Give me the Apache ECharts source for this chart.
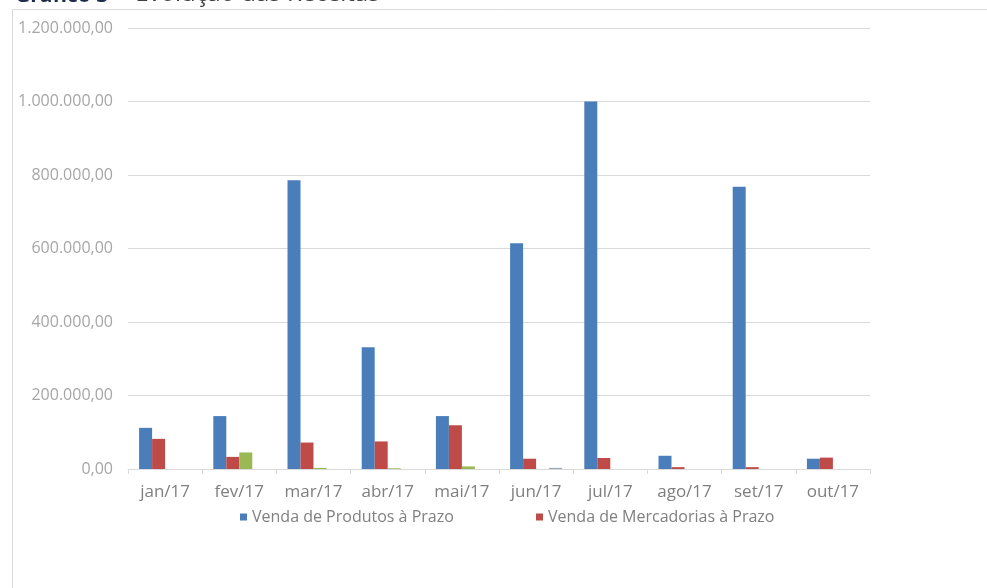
<!DOCTYPE html>
<html>
<head>
<meta charset="utf-8">
<script src="https://cdn.jsdelivr.net/npm/echarts@6/dist/echarts.min.js"></script>
<style>
html,body{margin:0;padding:0;background:#fff;}
#chart{width:987px;height:588px;}
</style>
</head>
<body>
<div id="chart"></div>
<script>
var categories = ['jan/17','fev/17','mar/17','abr/17','mai/17','jun/17','jul/17','ago/17','set/17','out/17'];
var vendaProdutos = [112000, 144000, 786000, 331000, 144000, 614000, 1000000, 36000, 768000, 28000];
var vendaMercadorias = [82000, 33000, 72000, 75000, 119000, 28000, 30000, 5000, 5000, 31000];
var serieVerde = [null, 45000, 3000, 2000, 7000, null, null, null, null, null];
var serieQuarta = [null, null, null, null, null, 3000, null, null, null, null];
var yTicks = [0, 200000, 400000, 600000, 800000, 1000000, 1200000];
var seriesNames = ['Venda de Produtos à Prazo', 'Venda de Mercadorias à Prazo', 'Outras Receitas', 'Demais Receitas'];

function fmtBR(v){
  var s = Math.round(v).toString().replace(/\B(?=(\d{3})+(?!\d))/g, '.');
  return s + ',00';
}

var chart = echarts.init(document.getElementById('chart'), null, {renderer:'canvas'});
var font = '"Open Sans", "DejaVu Sans", sans-serif';
chart.setOption({
  animation:false,
  backgroundColor:'#ffffff',
  graphic:[
    {type:'rect', shape:{x:12.5, y:9.5, width:1000, height:700}, style:{fill:'none', stroke:'#d9d9d9', lineWidth:1}, silent:true, z:-1},
    {type:'text', x:15, y:-14, style:{text:'Gráfico 3', font:'bold 21px "Open Sans", sans-serif', fill:'#1f2d4d', verticalAlign:'top'}},
    {type:'text', x:117, y:-18, style:{text:'– Evolução das Receitas', font:'24px "Open Sans", sans-serif', fill:'#404040', verticalAlign:'top'}}
  ],
  legend:[
    {data:[seriesNames[0]], left:240, top:509, padding:0, itemWidth:7, itemHeight:7, icon:'rect', itemGap:5,
     textStyle:{color:'#808080', fontSize:16, fontFamily:font}},
    {data:[seriesNames[1]], left:536, top:509, padding:0, itemWidth:7, itemHeight:7, icon:'rect', itemGap:5,
     textStyle:{color:'#808080', fontSize:16, fontFamily:font}}
  ],
  grid:{left:128, right:117, top:28, bottom:119, containLabel:false},
  xAxis:{
    type:'category', data:categories,
    axisLine:{show:true, lineStyle:{color:'#d9d9d9', width:1}},
    axisTick:{show:true, alignWithLabel:false, length:5, lineStyle:{color:'#d9d9d9'}},
    axisLabel:{color:'#7f7f7f', fontSize:17, fontFamily:font, margin:15, interval:0}
  },
  yAxis:{
    type:'value', min:yTicks[0], max:yTicks[yTicks.length-1], interval:yTicks[1]-yTicks[0],
    axisLine:{show:false}, axisTick:{show:false},
    splitLine:{lineStyle:{color:'#d9d9d9', width:1}},
    axisLabel:{color:'#a6a6a6', fontSize:16, fontFamily:font, margin:15, formatter:fmtBR}
  },
  series:[
    {name:seriesNames[0], type:'bar', data:vendaProdutos, barWidth:13, barGap:'0%', itemStyle:{color:'#4a7ebb'}},
    {name:seriesNames[1], type:'bar', data:vendaMercadorias, barWidth:13, barGap:'0%', itemStyle:{color:'#be4b48'}},
    {name:seriesNames[2], type:'bar', data:serieVerde, barWidth:13, barGap:'0%', itemStyle:{color:'#98b954'}},
    {name:seriesNames[3], type:'bar', data:serieQuarta, barWidth:13, barGap:'0%', itemStyle:{color:'#9aa6c4'}}
  ]
});
</script>
</body>
</html>
